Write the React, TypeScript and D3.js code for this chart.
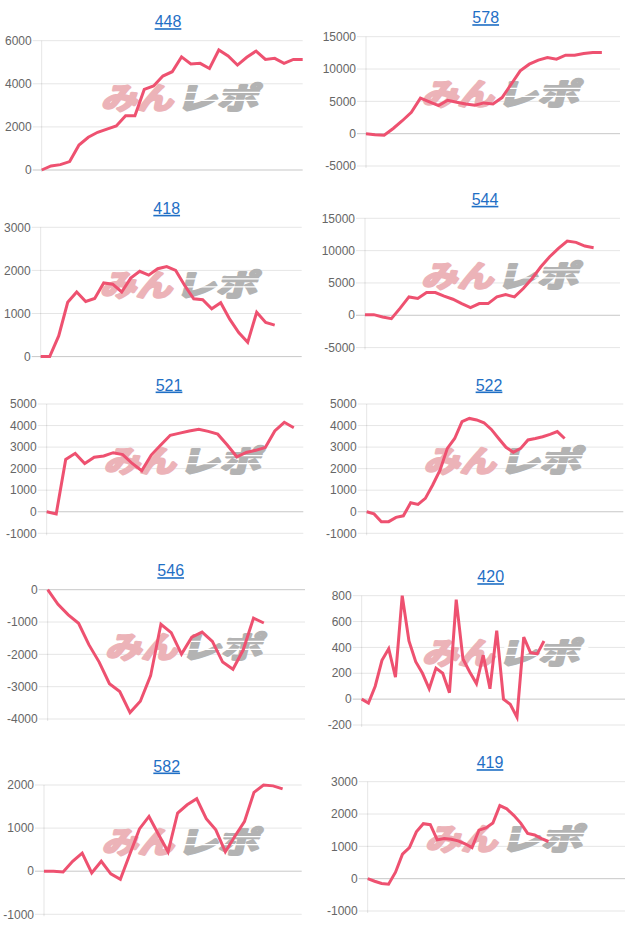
import React from "react";
import * as d3 from "d3";

// ---- data ----
const titles = ["448", "578", "418", "544", "521", "522", "546", "420", "582", "419"];

const v448 = [0, 190, 250, 390, 1160, 1520, 1750, 1900, 2040, 2520, 2520, 3740, 3900, 4360, 4560, 5250, 4920, 4950, 4710, 5570, 5290, 4870, 5230, 5520, 5130, 5180, 4950, 5130, 5130];
const v578 = [0, -150, -250, 800, 2000, 3300, 5500, 4910, 4340, 5170, 4860, 4600, 4400, 4760, 4600, 5580, 7650, 9720, 10750, 11370, 11790, 11530, 12150, 12150, 12400, 12560, 12560];
const v418 = [0, 0, 480, 1260, 1500, 1280, 1350, 1710, 1680, 1500, 1820, 1980, 1890, 2040, 2090, 2000, 1650, 1340, 1320, 1110, 1250, 870, 560, 330, 1030, 790, 730];
const v544 = [100, 100, -260, -520, 1100, 2840, 2590, 3520, 3520, 2950, 2480, 1810, 1190, 1810, 1810, 2840, 3200, 2840, 4140, 5690, 7500, 9050, 10340, 11480, 11280, 10700, 10450];
const v521 = [0, -100, 2430, 2710, 2240, 2530, 2590, 2740, 2650, 2240, 1900, 2630, 3100, 3550, 3650, 3750, 3830, 3730, 3600, 3100, 2550, 2750, 2850, 2980, 3750, 4150, 3900];
const v522 = [0, -100, -460, -460, -260, -190, 420, 340, 620, 1240, 1930, 2940, 3400, 4180, 4330, 4260, 4130, 3820, 3400, 2990, 2760, 2940, 3330, 3400, 3480, 3590, 3720, 3400];
const v546 = [0, -450, -780, -1040, -1700, -2240, -2910, -3150, -3800, -3450, -2660, -1070, -1330, -1990, -1470, -1310, -1600, -2240, -2460, -1860, -880, -1030];
const v420 = [0, -30, 100, 300, 390, 170, 800, 450, 290, 200, 80, 240, 200, 50, 770, 310, 210, 120, 340, 80, 530, 0, -40, -140, 480, 360, 350, 450];
const v582 = [0, 0, -20, 230, 420, -40, 230, -60, -190, 400, 980, 1270, 850, 450, 1350, 1540, 1680, 1220, 960, 450, 810, 1150, 1830, 2000, 1980, 1910];
const v419 = [0, -80, -150, -170, 200, 760, 960, 1450, 1700, 1670, 1200, 1240, 1220, 1170, 1080, 960, 1500, 1570, 1720, 2260, 2160, 1960, 1720, 1400, 1350, 1240, 1150];

const seriesList = [v448, v578, v418, v544, v521, v522, v546, v420, v582, v419];

// number of x-axis categories in each chart
const xSlots = [29, 29, 30, 30, 28, 36, 26, 40, 28, 38];

const t448 = [0, 2000, 4000, 6000];
const t578 = [-5000, 0, 5000, 10000, 15000];
const t418 = [0, 1000, 2000, 3000];
const t544 = [-5000, 0, 5000, 10000, 15000];
const t521 = [-1000, 0, 1000, 2000, 3000, 4000, 5000];
const t522 = [-1000, 0, 1000, 2000, 3000, 4000, 5000];
const t546 = [-4000, -3000, -2000, -1000, 0];
const t420 = [-200, 0, 200, 400, 600, 800];
const t582 = [-1000, 0, 1000, 2000];
const t419 = [-1000, 0, 1000, 2000, 3000];

const tickList = [t448, t578, t418, t544, t521, t522, t546, t420, t582, t419];

// ---- layout (page pixels) ----
const panelLayout = [
  { left: 41.7, right: 302.7, top: 40.7, titleX: 168 },
  { left: 366, right: 620, top: 36.7, titleX: 485.7 },
  { left: 40.7, right: 301.7, top: 227.3, titleX: 166.7 },
  { left: 365, right: 620, top: 218.3, titleX: 485 },
  { left: 46.7, right: 303.3, top: 404, titleX: 169 },
  { left: 366.7, right: 623.3, top: 404, titleX: 489 },
  { left: 47.7, right: 305, top: 589.7, titleX: 170.7 },
  { left: 361.7, right: 625, top: 595.7, titleX: 490.7 },
  { left: 44, right: 301.7, top: 785, titleX: 166.7 },
  { left: 367.7, right: 625, top: 781.7, titleX: 490 },
];
const plotHeight = 129.3;

const LINE_COLOR = "#ee5170";
const TITLE_COLOR = "#1f6fc5";
const FONT = "'Liberation Sans', Arial, Helvetica, sans-serif";
const WM_FONT = "'Noto Sans CJK JP', sans-serif";

function Watermark({ cx, cy }: { cx: number; cy: number }) {
  return (
    <g transform={`translate(${cx},${cy}) skewX(-14)`}>
      <text
        x={-78}
        y={0}
        dominantBaseline="central"
        fontFamily={WM_FONT}
        fontWeight={700}
        fontSize={30}
        textLength={72}
        lengthAdjust="spacingAndGlyphs"
        fill="#ecb3b8"
        stroke="#ecb3b8"
        strokeWidth={2.6}
        strokeLinejoin="round"
      >
        みん
      </text>
      <text
        x={-3}
        y={0}
        dominantBaseline="central"
        fontFamily={WM_FONT}
        fontWeight={700}
        fontSize={30}
        textLength={82}
        lengthAdjust="spacingAndGlyphs"
        fill="#b3b3b3"
        stroke="#b3b3b3"
        strokeWidth={2.6}
        strokeLinejoin="round"
      >
        レポ
      </text>
      <line x1={0} x2={84} y1={-4} y2={-4} stroke="#fff" strokeWidth={1.2} />
      <line x1={0} x2={84} y1={4} y2={4} stroke="#fff" strokeWidth={1.2} />
    </g>
  );
}

function Panel({ idx }: { idx: number }) {
  const L = panelLayout[idx];
  const ticks = tickList[idx];
  const values = seriesList[idx];
  const bottom = L.top + plotHeight;
  const y = d3
    .scaleLinear()
    .domain([d3.min(ticks) as number, d3.max(ticks) as number])
    .range([bottom, L.top]);
  const x = d3
    .scaleLinear()
    .domain([0, xSlots[idx] - 1])
    .range([L.left, L.right]);
  const line = d3
    .line<number>()
    .x((_, i) => x(i))
    .y((d) => y(d));
  const cx = (L.left + L.right) / 2 + 10;
  const cy = (L.top + bottom) / 2 - 9;
  return (
    <g>
      <text
        x={L.titleX}
        y={L.top - 13.5}
        textAnchor="middle"
        fontFamily={FONT}
        fontSize={16}
        fill={TITLE_COLOR}
        style={{ textDecoration: "underline" }}
      >
        {titles[idx]}
      </text>
      {ticks.map((t) => (
        <g key={t}>
          <line
            x1={L.left - 9}
            x2={L.right}
            y1={y(t)}
            y2={y(t)}
            stroke={t === 0 ? "rgba(0,0,0,0.22)" : "rgba(0,0,0,0.1)"}
            strokeWidth={1}
          />
          <text
            x={L.left - 10}
            y={y(t)}
            dy="0.35em"
            textAnchor="end"
            fontFamily={FONT}
            fontSize={12}
            fill="#666"
          >
            {t}
          </text>
        </g>
      ))}
      <line
        x1={L.left}
        x2={L.left}
        y1={L.top}
        y2={bottom + 2}
        stroke="rgba(0,0,0,0.1)"
        strokeWidth={1}
      />
      <Watermark cx={cx} cy={cy} />
      <path
        d={line(values) || ""}
        fill="none"
        stroke={LINE_COLOR}
        strokeWidth={3}
        strokeLinejoin="miter"
        strokeMiterlimit={4}
      />
    </g>
  );
}

export default function App() {
  return (
    <svg
      width={640}
      height={931}
      style={{ position: "absolute", left: 0, top: 0, background: "#fff" }}
    >
      {titles.map((_, i) => (
        <Panel key={i} idx={i} />
      ))}
    </svg>
  );
}
